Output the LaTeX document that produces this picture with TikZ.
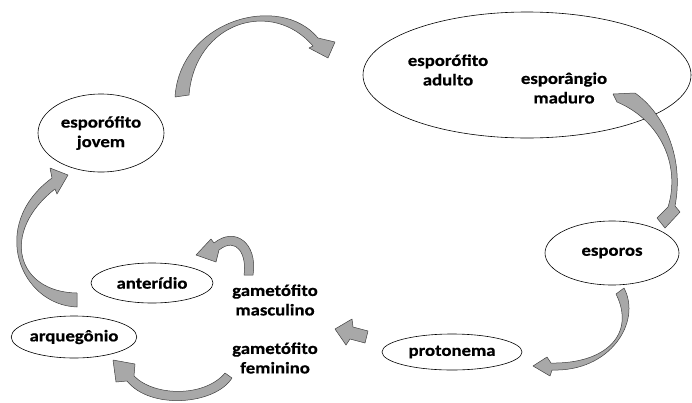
\documentclass[tikz,border=0pt]{standalone}
\usepackage{fontspec}
\setmainfont{Carlito}[FakeStretch=1.15, BoldFeatures={FakeBold=0.6}]
\usetikzlibrary{shapes.geometric}
\begin{document}
\begin{tikzpicture}[x=1pt,y=-1pt,
  ell/.style={draw, ellipse, line width=0.6pt, inner sep=0pt, align=center,
    font=\fontsize{16.3}{19.5}\selectfont\bfseries},
  lbl/.style={align=center, inner sep=0pt, font=\fontsize{16.3}{19.5}\selectfont\bfseries},
  blockarrow/.style={fill=gray!68, draw=black!75, line width=0.5pt, line join=round}]
\useasboundingbox (0,0) rectangle (692,402);
% ellipses
\node[ell, minimum width=328pt, minimum height=126pt] (adulto) at (527,75) {};
\node[lbl] (tadulto) at (448,70) {esporófito\\adulto};
\node[lbl] (tmaduro) at (564,88) {esporângio\\maduro};
\node[ell, minimum width=126pt, minimum height=78pt] (jovem) at (101,133) {esporófito\\jovem};
\node[ell, minimum width=134pt, minimum height=64pt] (esporos) at (612,253) {esporos};
\node[ell, minimum width=140pt, minimum height=36pt] (protonema) at (452,352) {protonema};
\node[ell, minimum width=122pt, minimum height=40pt] (anteridio) at (152,283) {anterídio};
\node[ell, minimum width=120pt, minimum height=42pt] (arquegonio) at (74,337) {arquegônio};
\node[lbl] (masc) at (275,300) {gametófito\\masculino};
\node[lbl] (fem) at (275,358) {gametófito\\feminino};
% block arrows
% jovem -> adulto
\path[blockarrow] (175,97) .. controls (180,20) and (280,-8) .. (318,38)
  -- (335,42) -- (328,58) -- (309,48) -- (313,46)
  .. controls (272,-2) and (195,22) .. (189,95) -- cycle;
% esporangio -> esporos
\path[blockarrow] (635,93) .. controls (666,115) and (684,160) .. (675,206)
  -- (680,212) -- (665,228) -- (657,218) -- (668,207)
  .. controls (681,165) and (660,120) .. (617,102) -- (613,94) -- cycle;
% esporos -> protonema
\path[blockarrow] (624,288) .. controls (642,322) and (610,372) .. (552,370)
  -- (550,376) -- (533,366) -- (547,357) -- (551,363)
  .. controls (606,364) and (636,334) .. (616,294) -- cycle;
% protonema -> gametofito
\path[blockarrow] (335,329) -- (352,319) -- (353,327) -- (368,331) -- (365,343)
  -- (350,339) -- (346,345) -- cycle;
% masculino -> anteridio
\path[blockarrow] (253,275) .. controls (258,243) and (235,226) .. (214,243)
  -- (211,239) -- (196,255) -- (216,262) -- (219,250)
  .. controls (237,236) and (247,255) .. (244,275) -- cycle;
% feminino -> arquegonio
\path[blockarrow] (232,378) .. controls (215,405) and (150,410) .. (127,381)
  -- (116,382) -- (113,360) -- (135,364) -- (134,376)
  .. controls (155,397) and (205,397) .. (225,373) -- cycle;
% arquegonio -> jovem
\path[blockarrow] (77,307) .. controls (20,305) and (-12,225) .. (52,178)
  -- (50,168) -- (68,175) -- (57,194) -- (55,189)
  .. controls (0,232) and (16,292) .. (77,293) -- cycle;
\end{tikzpicture}
\end{document}
